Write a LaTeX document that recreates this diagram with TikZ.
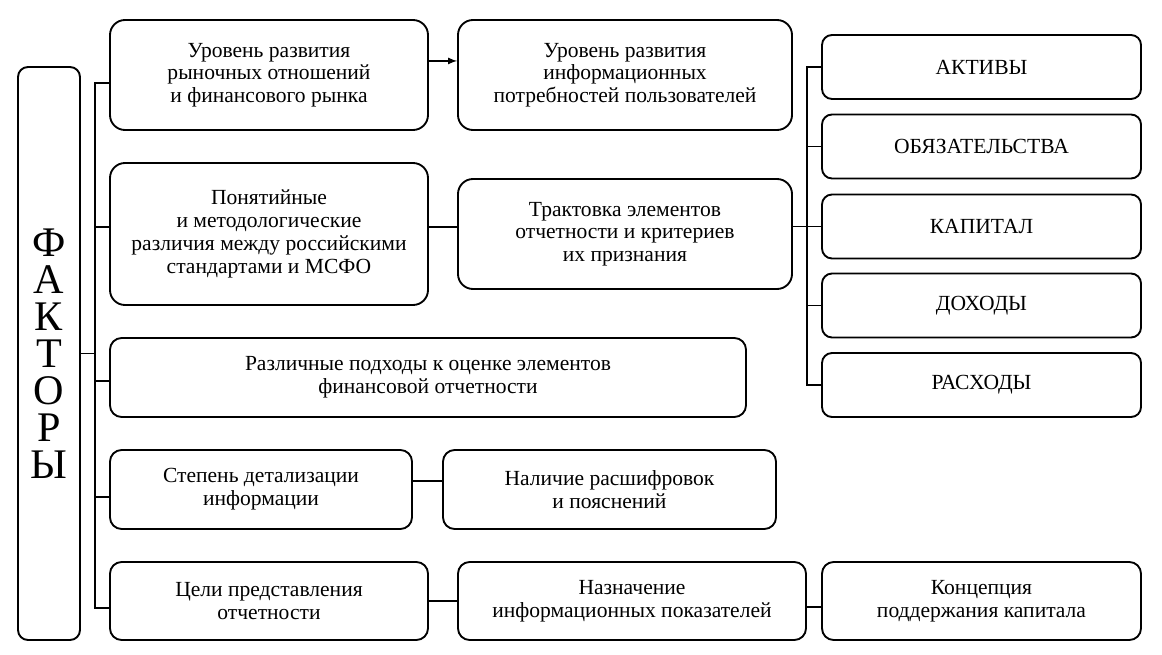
\documentclass[tikz,border=0pt]{standalone}
\usepackage{fontspec}
\setmainfont{Liberation Serif}
\usetikzlibrary{positioning,shapes,arrows}

\begin{document}
\begin{tikzpicture}[x=0.3mm, y=-0.3mm, line width=1.6pt,
    wh/.style 2 args={minimum width=#1*0.3mm, minimum height=#2*0.3mm},
    factor/.style={draw, rounded corners=4.5mm, align=center, inner sep=0pt,
      font=\fontsize{18.4}{19.4}\selectfont},
    element/.style={factor, rounded corners=3mm, wh={319}{64}}]
    \useasboundingbox (0,0) rectangle (1162,655);
    % left column
    \node[factor, rounded corners=3mm, wh={62}{573},
      font=\fontsize{36}{31.5}\selectfont] (F) at (49,353.5) {Ф\\А\\К\\Т\\О\\Р\\Ы};
    \node[factor, wh={318}{110}] (A1) at (269,75) {Уровень развития\\рыночных отношений\\и финансового рынка};
    \node[factor, wh={334}{110}] (A2) at (625,75) {Уровень развития\\информационных\\потребностей пользователей};
    \node[factor, wh={318}{142}] (B1) at (269,234) {Понятийные\\и методологические\\различия между российскими\\стандартами и МСФО};
    \node[factor, wh={334}{110}] (B2) at (625,234) {Трактовка элементов\\отчетности и критериев\\их признания};
    \node[factor, rounded corners=3.5mm, wh={636}{79}] (C) at (428,377.5) {Различные подходы к оценке элементов\\финансовой отчетности};
    \node[factor, rounded corners=3.5mm, wh={302}{79}] (D1) at (261,489.5) {Степень детализации\\информации};
    \node[factor, rounded corners=3.5mm, wh={333}{79}] (D2) at (609.5,489.5) {Наличие расшифровок\\и пояснений};
    \node[factor, rounded corners=3.5mm, wh={318}{78}] (E1) at (269,601) {Цели представления\\отчетности};
    \node[factor, rounded corners=3.5mm, wh={348}{78}] (E2) at (632,601) {Назначение\\информационных показателей};
    \node[factor, rounded corners=3.5mm, wh={319}{78}] (E3) at (981.5,601) {Концепция\\поддержания капитала};
    % elements of reporting
    \foreach \n/\t/\y in {R1/АКТИВЫ/67, R2/ОБЯЗАТЕЛЬСТВА/146.5, R3/КАПИТАЛ/226.5,
      R4/ДОХОДЫ/305.5, R5/РАСХОДЫ/385}
      \node[element] (\n) at (981.5,\y) {\t};

    \coordinate (lbtop) at (95,83);
    \coordinate (lbbot) at (95,608);
    \coordinate (rbtop) at (807,67);
    \coordinate (rbbot) at (807,385);

    \draw (lbtop) -- (lbbot);
    \draw (F.east) -- (F.east -| lbtop);
    \draw ([yshift=-7pt]A1.west) -- +(-15,0);
    \draw ([yshift=6pt]B1.west) -- +(-15,0);
    \draw ([yshift=-3pt]C.west) -- +(-15,0);
    \draw ([yshift=-6.4pt]D1.west) -- +(-15,0);
    \draw ([yshift=-6pt]E1.west) -- +(-15,0);

    \draw[-latex] ([yshift=12pt]A1.east) -- ([yshift=12pt]A2.west);
    \draw ([yshift=6pt]B1.east) -- ([yshift=6pt]B2.west);
    \draw (B2.east |- R3.west) -- (R3.west);
    \draw ([yshift=7pt]D1.east) -- ([yshift=7pt]D2.west);
    \draw (E1.east) -- (E2.west);
    \draw ([yshift=-5pt]E2.east) -- ([yshift=-5pt]E3.west);

    \draw (rbtop) -- (rbbot);
    \foreach \n in {R1,R2,R3,R4,R5}
      \draw (\n.west) -- +(-15,0);
\end{tikzpicture}
\end{document}
